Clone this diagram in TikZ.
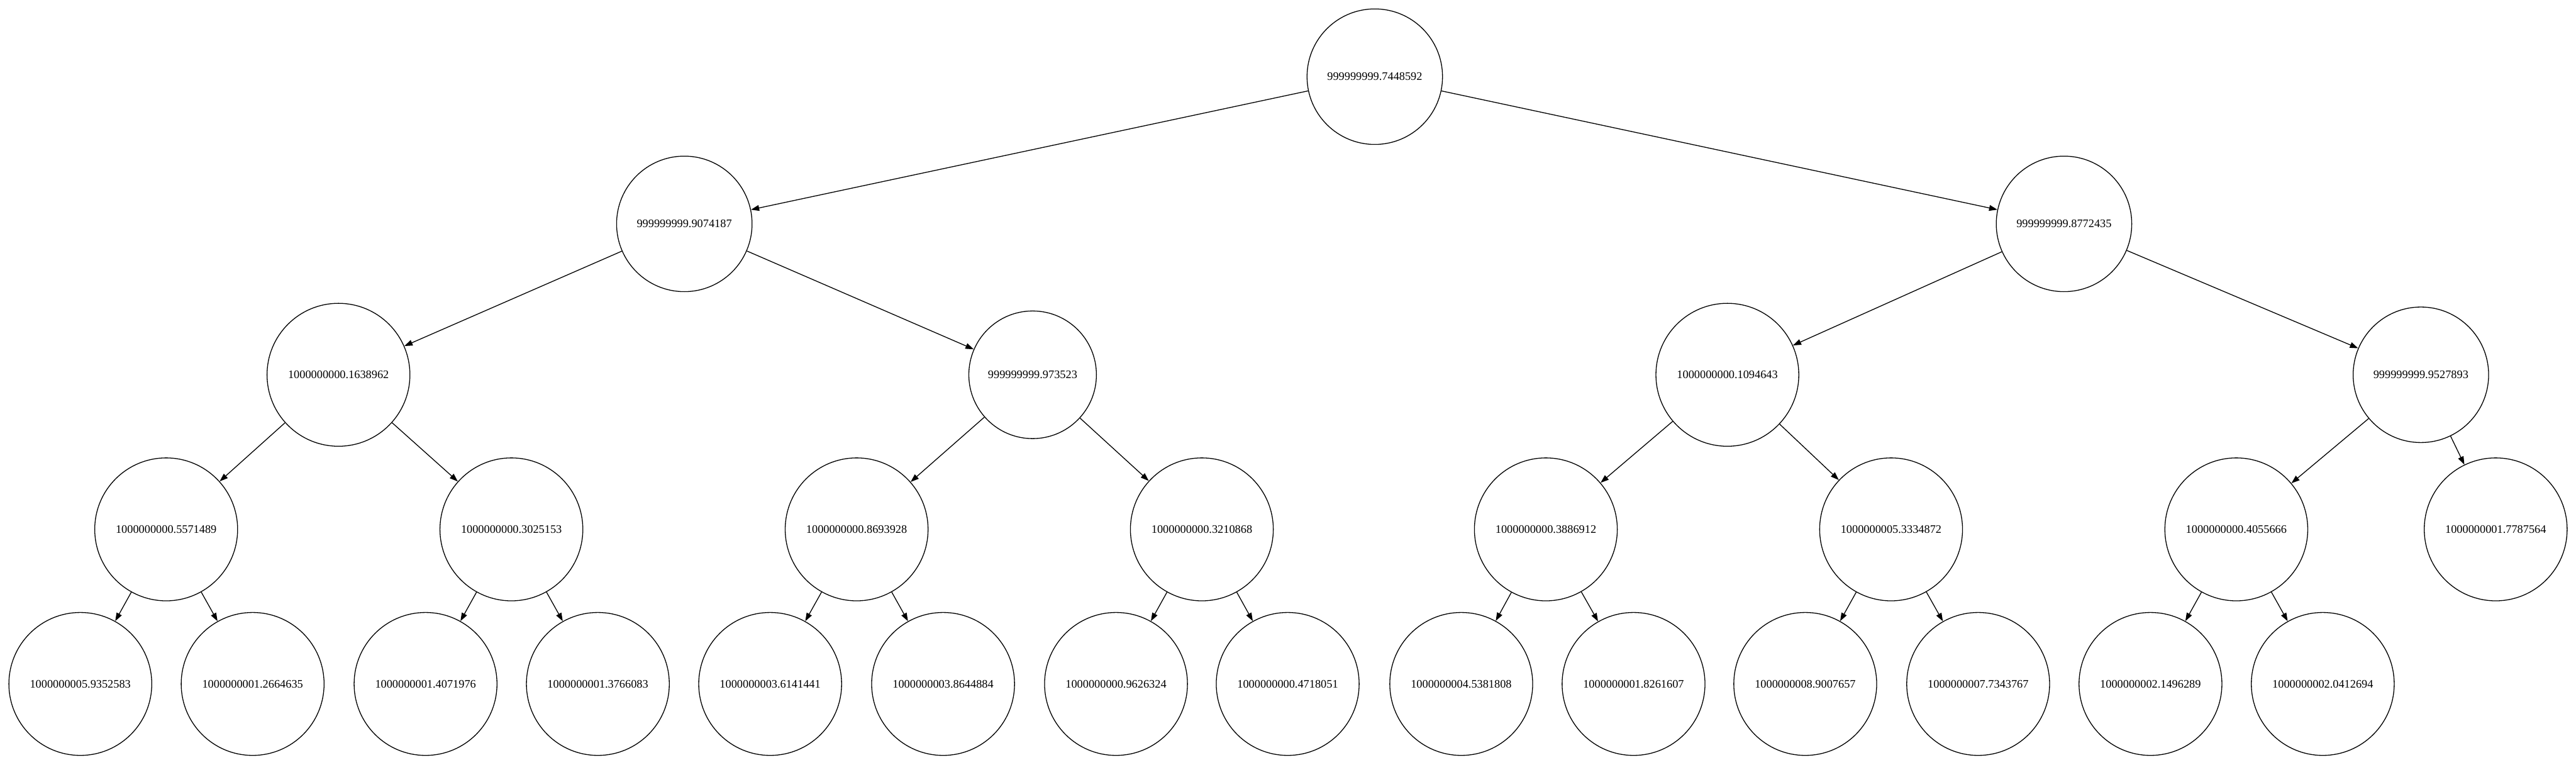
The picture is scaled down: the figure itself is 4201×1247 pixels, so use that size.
\documentclass[tikz,border=0pt]{standalone}
\usepackage{fontspec}
\setmainfont{Liberation Serif}
\usetikzlibrary{arrows.meta}
\begin{document}
\begin{tikzpicture}[x=0.745pt,y=-0.745pt,
  nd/.style={circle,draw=black,line width=1pt,inner sep=0pt,font=\fontsize{14}{16}\selectfont},
  rA/.style={nd,minimum size=164.6pt},
  rB/.style={nd,minimum size=155pt},
  rC/.style={nd,minimum size=173.6pt},
  edge/.style={draw=black,line width=1pt,-{Triangle[length=10pt,width=7pt]}}]
\useasboundingbox (0,0) rectangle (4201,1247);
% level 0-1
\node[rA] (r) at (2242,125) {999999999.7448592};
\node[rA] (a) at (1116,365) {999999999.9074187};
\node[rA] (b) at (3366,365) {999999999.8772435};
% level 2
\node[rC] (c1) at (552,611) {1000000000.1638962};
\node[rB] (c2) at (1684,611) {999999999.973523};
\node[rC] (c3) at (2817,611) {1000000000.1094643};
\node[rA] (c4) at (3948,611) {999999999.9527893};
% level 3
\node[rC] (d1) at (271,863) {1000000000.5571489};
\node[rC] (d2) at (834,863) {1000000000.3025153};
\node[rC] (d3) at (1397,863) {1000000000.8693928};
\node[rC] (d4) at (1960,863) {1000000000.3210868};
\node[rC] (d5) at (2521,863) {1000000000.3886912};
\node[rC] (d6) at (3084,863) {1000000005.3334872};
\node[rC] (d7) at (3647,863) {1000000000.4055666};
\node[rC] (d8) at (4070,863) {1000000001.7787564};
% level 4
\node[rC] (e1) at (131,1115) {1000000005.9352583};
\node[rC] (e2) at (412,1115) {1000000001.2664635};
\node[rC] (e3) at (694,1115) {1000000001.4071976};
\node[rC] (e4) at (975,1115) {1000000001.3766083};
\node[rC] (e5) at (1256,1115) {1000000003.6141441};
\node[rC] (e6) at (1538,1115) {1000000003.8644884};
\node[rC] (e7) at (1820,1115) {1000000000.9626324};
\node[rC] (e8) at (2100,1115) {1000000000.4718051};
\node[rC] (e9) at (2383,1115) {1000000004.5381808};
\node[rC] (e10) at (2664,1115) {1000000001.8261607};
\node[rC] (e11) at (2944,1115) {1000000008.9007657};
\node[rC] (e12) at (3226,1115) {1000000007.7343767};
\node[rC] (e13) at (3507,1115) {1000000002.1496289};
\node[rC] (e14) at (3788,1115) {1000000002.0412694};
% edges
\draw[edge] (r) -- (a);
\draw[edge] (r) -- (b);
\draw[edge] (a) -- (c1);
\draw[edge] (a) -- (c2);
\draw[edge] (b) -- (c3);
\draw[edge] (b) -- (c4);
\draw[edge] (c1) -- (d1);
\draw[edge] (c1) -- (d2);
\draw[edge] (c2) -- (d3);
\draw[edge] (c2) -- (d4);
\draw[edge] (c3) -- (d5);
\draw[edge] (c3) -- (d6);
\draw[edge] (c4) -- (d7);
\draw[edge] (c4) -- (d8);
\draw[edge] (d1) -- (e1);
\draw[edge] (d1) -- (e2);
\draw[edge] (d2) -- (e3);
\draw[edge] (d2) -- (e4);
\draw[edge] (d3) -- (e5);
\draw[edge] (d3) -- (e6);
\draw[edge] (d4) -- (e7);
\draw[edge] (d4) -- (e8);
\draw[edge] (d5) -- (e9);
\draw[edge] (d5) -- (e10);
\draw[edge] (d6) -- (e11);
\draw[edge] (d6) -- (e12);
\draw[edge] (d7) -- (e13);
\draw[edge] (d7) -- (e14);
\end{tikzpicture}
\end{document}
